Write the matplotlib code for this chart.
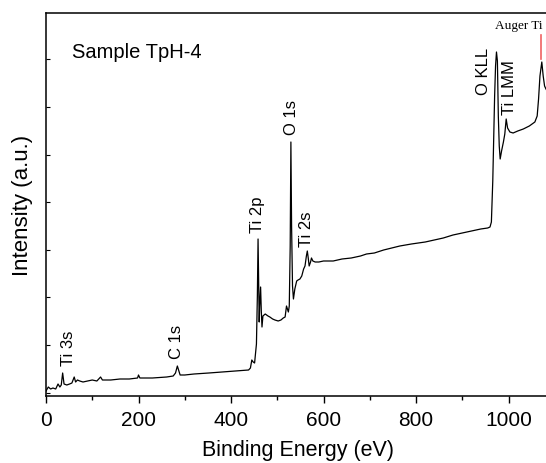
import numpy as np
import matplotlib
matplotlib.use('Agg')
import matplotlib.pyplot as plt
from matplotlib.ticker import MultipleLocator

plt.rcParams['font.family'] = ['Liberation Sans', 'DejaVu Sans']

# survey spectrum (binding energy in eV, intensity in a.u.)
energy = [0, 5, 10, 15, 21, 26, 30, 33, 36, 39, 45, 51, 56, 61, 64, 68, 73, 80,
          90, 100, 110, 118, 122, 140, 160, 180, 198, 200, 203, 230, 261, 275,
          280, 284, 286, 290, 300, 320, 352, 380, 410, 438, 442, 445, 448, 451,
          453, 455, 457, 458.5, 460, 461, 462, 464, 465.5, 467, 469, 474, 480,
          484, 490, 495, 502, 508, 513, 517, 520, 522, 524, 526, 528, 529.5,
          531, 533, 535, 538, 542, 545, 549, 553, 557, 560, 563, 565, 567, 569,
          572, 574, 577, 582, 590, 600, 621, 640, 660, 680, 693, 710, 730, 765,
          790, 820, 840, 859, 880, 900, 920, 940, 955, 960, 963, 966, 968, 970,
          972, 974, 976, 978, 980, 982, 985, 989, 992, 995, 998, 1003, 1010,
          1020, 1032, 1045, 1057, 1062, 1065, 1068, 1072, 1075, 1078, 1081, 1090]
intensity = [5, 9, 7, 8, 7, 12, 9, 11, 23, 12, 11, 12, 13, 19, 14, 16, 15, 14,
             15, 16, 15, 19, 16, 16, 17, 17, 18, 21, 18, 18, 19, 20,
             23, 30, 27, 21, 21, 22, 23, 24, 25, 26, 28, 36, 34, 33,
             42, 52, 100, 157, 110, 74, 90, 109, 85, 69, 80, 82, 80,
             79, 77, 76, 75, 76, 78, 79, 90, 87, 84, 90, 150, 254,
             170, 110, 97, 107, 115, 116, 117, 120, 127, 130, 140, 145, 138, 130,
             134, 138, 135, 134, 134, 135, 135, 137, 138, 140, 142, 143, 146, 150,
             152, 154, 156, 158, 161, 163, 165, 167, 168, 169, 174, 215, 260, 300,
             330, 344, 335, 280, 250, 237, 245, 254, 262, 277, 268, 264, 263,
             265, 267, 270, 274, 280, 297, 320, 334, 320, 310, 307, 300]

# peak labels: text, energy, base of text
peak_names = ['Ti 3s', 'C 1s', 'Ti 2p', 'O 1s', 'Ti 2s', 'O KLL', 'Ti LMM']
peak_pos = [48, 283, 458, 530, 564, 947, 1003]
peak_base = [31, 38, 164, 262, 150, 302, 282]

auger_x = 1070
auger_y = [337, 361]

fig = plt.figure(figsize=(5.46, 4.64), dpi=100)
ax = fig.add_axes([46 / 546, 67 / 464, 1090 * 0.4625 / 546, 383 / 464])

ax.plot(energy, intensity, color='black', lw=0.9)

for name, x, y in zip(peak_names, peak_pos, peak_base):
    ax.text(x, y, name, rotation=90, ha='center', va='bottom', fontsize=12)

ax.plot([auger_x, auger_x], auger_y, color='#f06262', lw=1.2)
ax.text(971, 368, 'Auger Ti', family=['Liberation Serif'], fontsize=9.5,
        ha='left', va='baseline')

ax.text(0.052, 0.9, 'Sample TpH-4', transform=ax.transAxes, fontsize=14.5,
        ha='left', va='center')

ax.set_xlim(0, 1090)
ax.set_ylim(0, 383)
ax.xaxis.set_major_locator(MultipleLocator(200))
ax.xaxis.set_minor_locator(MultipleLocator(100))
ax.set_yticks(np.arange(3.4, 383, 47.6))
ax.set_yticklabels([])
ax.tick_params(axis='x', which='major', direction='out', length=5, width=1,
               labelsize=15, pad=5, top=False)
ax.tick_params(axis='x', which='minor', direction='out', length=3, width=1,
               top=False)
ax.tick_params(axis='y', direction='in', length=3, width=0.8, right=False)
for s in ax.spines.values():
    s.set_linewidth(1.1)

ax.set_xlabel('Binding Energy (eV)', fontsize=15.5, labelpad=7)
ax.set_ylabel('Intensity (a.u.)', fontsize=16, labelpad=6)

fig.savefig('out.png', dpi=100)
